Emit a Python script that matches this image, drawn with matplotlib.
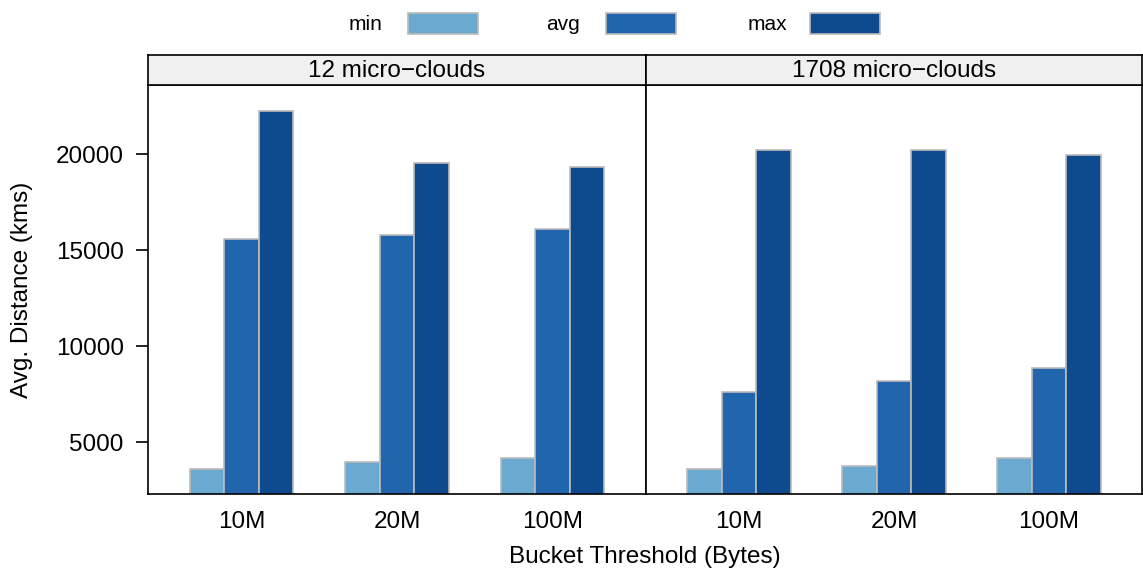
import numpy as np
import matplotlib.pyplot as plt
from matplotlib.patches import Rectangle

plt.rcParams['font.family'] = ['Liberation Sans', 'DejaVu Sans']

# data
thresholds = ['10M', '20M', '100M']
panels = ['12 micro\u2212clouds', '1708 micro\u2212clouds']
series = ['min', 'avg', 'max']
colors = ['#6baad0', '#2166ac', '#0e4a8e']

min_12 = [3630, 3960, 4200]
avg_12 = [15610, 15770, 16130]
max_12 = [22250, 19560, 19340]

min_1708 = [3620, 3770, 4190]
avg_1708 = [7650, 8220, 8880]
max_1708 = [20240, 20210, 19980]

panel_data = [
    [min_12, avg_12, max_12],
    [min_1708, avg_1708, max_1708],
]

W, H = 1143, 572
fig = plt.figure(figsize=(W / 100, H / 100), dpi=100)


def box(x0, y0, x1, y1):
    # pixel box (top-left origin) -> figure fraction rect
    return [x0 / W, 1 - y1 / H, (x1 - x0) / W, (y1 - y0) / H]


panel_x = [(148, 646), (646, 1142)]
plot_top, plot_bot = 85, 494
strip_top = 55
bar_w = 0.222
x = np.arange(1, len(thresholds) + 1)
fs = 17.5

for p, (x0, x1) in enumerate(panel_x):
    ax = fig.add_axes(box(x0, plot_top, x1, plot_bot))
    for k, vals in enumerate(panel_data[p]):
        ax.bar(x + (k - 1) * bar_w, vals, width=bar_w, color=colors[k],
               edgecolor='#bbbbbb', linewidth=1.2, zorder=2)
    ax.set_xlim(0.4, 3.6)
    ax.set_ylim(2320, 23600)
    ax.set_xticks(x)
    ax.set_xticklabels(thresholds, fontsize=fs)
    ax.tick_params(axis='x', length=0, pad=12)
    ax.set_yticks([5000, 10000, 15000, 20000])
    if p == 0:
        ax.tick_params(axis='y', labelsize=fs, length=8.5, width=1.2, pad=9)
    else:
        ax.tick_params(axis='y', left=False, labelleft=False)
    for s in ax.spines.values():
        s.set_linewidth(1.2)

    strip = fig.add_axes(box(x0, strip_top, x1, plot_top))
    strip.set_facecolor('#f0f0f0')
    strip.set_xticks([])
    strip.set_yticks([])
    for s in strip.spines.values():
        s.set_linewidth(1.2)
    strip.text(0.5, 0.45, panels[p], ha='center', va='center', fontsize=fs,
               transform=strip.transAxes)

fig.text(22 / W, 1 - 290 / H, 'Avg. Distance (kms)', rotation=90,
         ha='center', va='center', fontsize=fs)
fig.text(645 / W, 1 - 557 / H, 'Bucket Threshold (Bytes)',
         ha='center', va='center', fontsize=fs)

# legend across the top
label_x = [365, 563, 767]
for k, name in enumerate(series):
    fig.text(label_x[k] / W, 1 - 25 / H, name, ha='center', va='center',
             fontsize=15)
    bx = label_x[k] + 43
    fig.patches.append(Rectangle((bx / W, 1 - 34 / H), 70 / W, 21 / H,
                                 transform=fig.transFigure,
                                 facecolor=colors[k], edgecolor='#bbbbbb',
                                 linewidth=1.2))

fig.savefig('out.png', dpi=100)
